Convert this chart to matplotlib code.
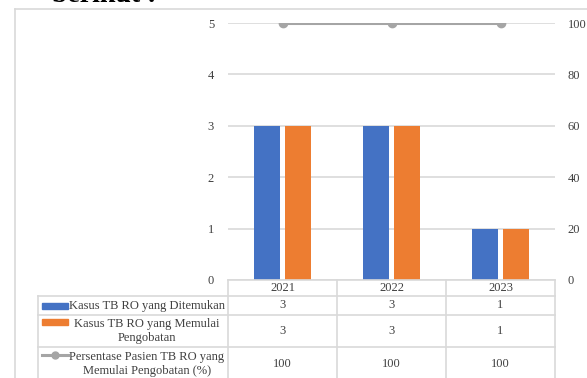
import matplotlib
matplotlib.use("Agg")
import matplotlib.pyplot as plt
from matplotlib.patches import Rectangle
from matplotlib.lines import Line2D
import numpy as np

plt.rcParams["font.family"] = ["Liberation Serif", "DejaVu Serif"]

years = ["2021", "2022", "2023"]
ditemukan = [3, 3, 1]
memulai = [3, 3, 1]
persentase = [100, 100, 100]

series_labels = [
    "Kasus TB RO yang Ditemukan",
    "Kasus TB RO yang Memulai\nPengobatan",
    "Persentase Pasien TB RO yang\nMemulai Pengobatan (%)",
]

BLUE = "#4472c4"
ORANGE = "#ed7d31"
GREY = "#a5a5a5"
GRID = "#d9d9d9"
TXT = "#404040"

W, H = 587, 378
fig = plt.figure(figsize=(W / 100, H / 100), dpi=100)


def fx(px):
    return px / W


def fy(py):
    return 1 - py / H


# outer chart frame (only top and left edges fall inside the canvas)
fig.add_artist(Line2D([fx(15), fx(15)], [fy(9), 0], color=GRID, lw=1.2))
fig.add_artist(Line2D([fx(15), 1], [fy(9), fy(9)], color=GRID, lw=1.2))
fig.text(fx(52), fy(1.5), "berikut :", fontsize=20, fontweight="bold",
         va="baseline", ha="left")

ax = fig.add_axes([fx(228), fy(280), fx(555) - fx(228), fy(23) - fy(280)])
x = np.arange(len(years))
bw = 0.23
off = 0.142
ax.bar(x - off, ditemukan, bw, color=BLUE, zorder=3)
ax.bar(x + off, memulai, bw, color=ORANGE, zorder=3)
ax.set_xlim(-0.5, len(years) - 0.5)
ax.set_ylim(0, 5)
ax.set_yticks(range(6))
ax.yaxis.grid(True, color=GRID, lw=1.2, zorder=0)
ax.tick_params(axis="y", length=0, pad=10, labelsize=9, labelcolor=TXT)
ax.set_xticks([])
for s in ax.spines.values():
    s.set_visible(False)

ax2 = ax.twinx()
ax2.plot(x, persentase, color=GREY, lw=2.2, marker="o", ms=6, zorder=4)
ax2.set_ylim(0, 100)
ax2.set_yticks(range(0, 101, 20))
ax2.tick_params(axis="y", length=0, pad=9, labelsize=9, labelcolor=TXT)
for s in ax2.spines.values():
    s.set_visible(False)

# data table under the plot
row_edges = [280, 296, 315, 347, 390]
col_edges = [228, 337, 446, 555]
tbl_left = 38
lc = dict(color=GRID, lw=1.2)
for py in row_edges:
    x0 = col_edges[0] if py == 280 else tbl_left
    fig.add_artist(Line2D([fx(x0), fx(col_edges[-1])], [fy(py), fy(py)], **lc))
for px in col_edges:
    fig.add_artist(Line2D([fx(px), fx(px)], [fy(280), 0], **lc))
fig.add_artist(Line2D([fx(tbl_left), fx(tbl_left)], [fy(296), 0], **lc))

centers = [(col_edges[i] + col_edges[i + 1]) / 2 for i in range(3)]
row_mid = [(row_edges[i] + row_edges[i + 1]) / 2 for i in range(4)]
row_mid[3] = 364
for i, yr in enumerate(years):
    fig.text(fx(centers[i]), fy(row_mid[0]), yr, ha="center", va="center",
             fontsize=9, color=TXT)
for r, vals in enumerate([ditemukan, memulai, persentase]):
    for i, v in enumerate(vals):
        fig.text(fx(centers[i]), fy(row_mid[r + 1]), str(v), ha="center",
                 va="center", fontsize=9, color=TXT)

# legend keys in the first column
key_y = [row_mid[1], 322, 355]
for r, lab in enumerate(series_labels):
    ky = key_y[r]
    if r < 2:
        fig.add_artist(Rectangle((fx(42), fy(ky + 3)), fx(26), 6 / H,
                                 color=[BLUE, ORANGE][r]))
    else:
        fig.add_artist(Line2D([fx(42), fx(68)], [fy(ky), fy(ky)], color=GREY,
                              lw=2.2))
        fig.add_artist(Line2D([fx(55)], [fy(ky)], color=GREY, marker="o", ms=5))
    fig.text(fx(147), fy(row_mid[r + 1]), lab, ha="center", va="center",
             fontsize=9, color=TXT, linespacing=1.15)

fig.savefig("out.png", dpi=100)
